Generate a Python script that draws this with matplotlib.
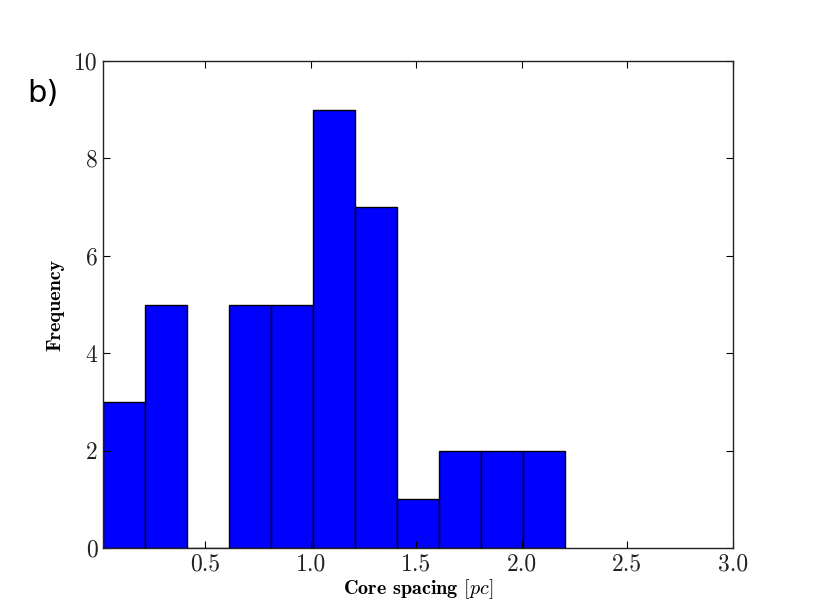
import matplotlib
matplotlib.use("Agg")
import matplotlib.pyplot as plt
import numpy as np

plt.rcParams['mathtext.fontset'] = 'cm'
plt.rcParams['axes.formatter.use_mathtext'] = True

bin_edges = [0.017, 0.216, 0.415, 0.614, 0.813, 1.012, 1.211, 1.410, 1.609, 1.808, 2.007, 2.206]
counts = [3, 5, 0, 5, 5, 9, 7, 1, 2, 2, 2]
xticks = [0.5, 1.0, 1.5, 2.0, 2.5, 3.0]
yticks = [0, 2, 4, 6, 8, 10]

fig = plt.figure(figsize=(8.14, 6.10), dpi=100)
ax = fig.add_axes([103/814, 1-548/610, 630/814, 487/610])

edges = np.array(bin_edges)
ax.bar(edges[:-1], counts, width=np.diff(edges), align='edge',
       color='#0000ff', edgecolor='black', linewidth=1.0)

ax.set_xlim(bin_edges[0], 3.0)
ax.set_ylim(0, 10)
ax.set_xticks(xticks)
ax.set_yticks(yticks)
ax.set_xticklabels([f"{t:.1f}" for t in xticks], family='cmr10', fontsize=17, color='#222222')
ax.set_yticklabels([str(t) for t in yticks], family='cmr10', fontsize=17, color='#222222')
ax.tick_params(direction='in', top=True, right=True, length=5, width=0.8, pad=4)
for s in ax.spines.values():
    s.set_linewidth(1.0)
    s.set_color('#222222')

ax.set_xlabel(r'Core spacing $[pc]$', family='cmb10', fontsize=14.5, labelpad=1)
ax.set_ylabel('Frequency', family='cmb10', fontsize=14.5, labelpad=7)

fig.text(43/814, 1-94/610, 'b)', family='DejaVu Sans', fontsize=22, ha='center', va='center')

fig.savefig('out.png', dpi=100)
